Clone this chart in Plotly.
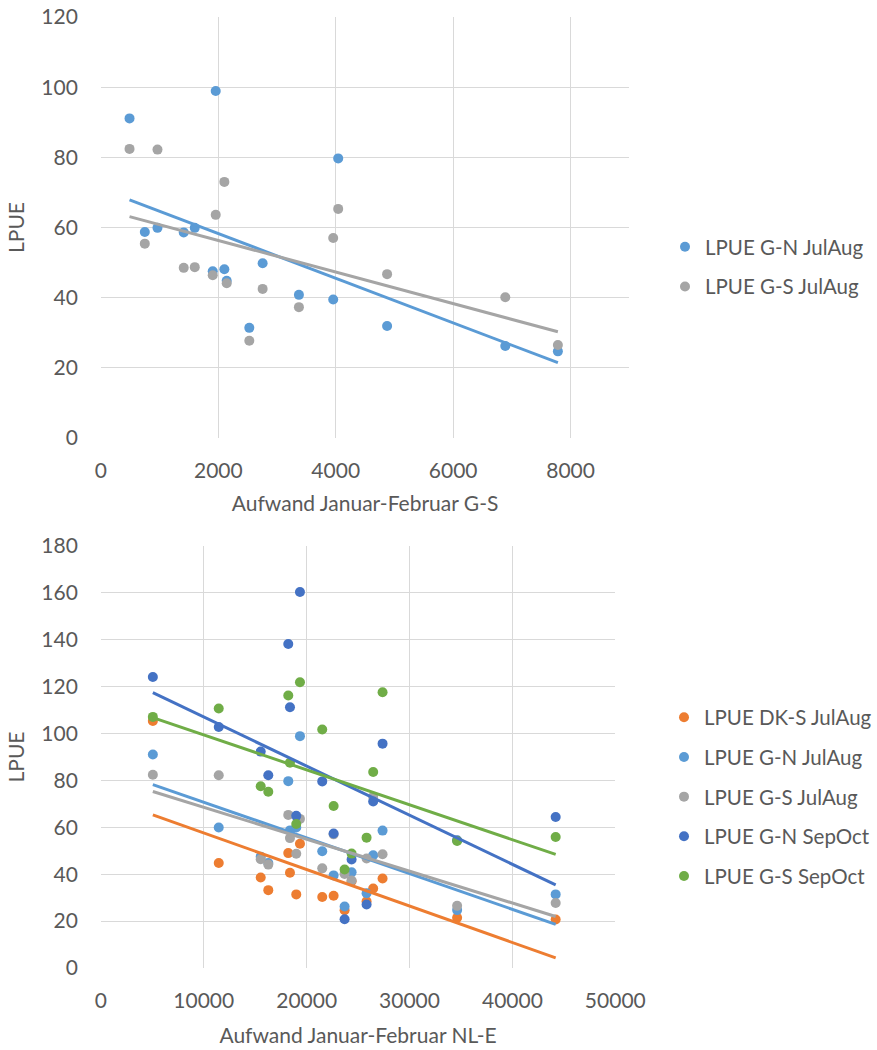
import numpy as np
import plotly.graph_objects as go

# ---- data (17 seasons) ----
aufwand_gs = [488, 748, 964, 1411, 1599, 1905, 1956, 2103, 2143, 2528, 2755, 3373, 3957, 4042, 4875, 6888, 7784]
aufwand_nle = [5050, 18379, 11456, 27379, 18990, 15534, 19350, 26466, 16272, 44204, 21515, 24369, 22621, 18214, 25825, 23689, 34625]

lpue_gn_julaug = [91.1, 58.7, 59.9, 58.6, 59.9, 47.5, 98.9, 48.1, 44.8, 31.4, 49.8, 40.8, 39.5, 79.7, 31.9, 26.2, 24.7]
lpue_gs_julaug = [82.4, 55.4, 82.2, 48.5, 48.7, 46.4, 63.6, 73.0, 44.1, 27.7, 42.5, 37.3, 57.0, 65.3, 46.7, 40.1, 26.5]
lpue_dks_julaug = [105.4, 40.6, 44.8, 38.2, 31.4, 38.6, 53.0, 33.9, 33.2, 20.7, 30.3, 37.0, 30.8, 49.0, 28.5, 24.6, 21.4]
lpue_gn_sepoct = [124.1, 111.2, 102.8, 95.7, 64.9, 92.3, 160.4, 71.0, 82.2, 64.4, 79.6, 46.3, 57.4, 138.2, 27.1, 20.8, 54.5]
lpue_gs_sepoct = [107.1, 87.6, 110.7, 117.6, 61.4, 77.5, 121.9, 83.6, 75.2, 55.9, 101.7, 48.8, 69.1, 116.2, 55.6, 42.0, 54.2]

top_series = [("LPUE G-N JulAug", lpue_gn_julaug, "#5B9BD5"),
              ("LPUE G-S JulAug", lpue_gs_julaug, "#A5A5A5")]
bottom_series = [("LPUE DK-S JulAug", lpue_dks_julaug, "#ED7D31"),
                 ("LPUE G-N JulAug", lpue_gn_julaug, "#5B9BD5"),
                 ("LPUE G-S JulAug", lpue_gs_julaug, "#A5A5A5"),
                 ("LPUE G-N SepOct", lpue_gn_sepoct, "#4472C4"),
                 ("LPUE G-S SepOct", lpue_gs_sepoct, "#70AD47")]

FONT = "Lato"
TXT = "#595959"
GRID = "#D9D9D9"

fig = go.Figure()


def add_panel(xvals, series, xa, ya, legend_name):
    x = np.array(xvals, dtype=float)
    for i, (name, yv, col) in enumerate(series):
        fig.add_trace(go.Scatter(
            x=x, y=yv, mode="markers", name=name,
            marker=dict(color=col, size=10),
            xaxis=xa, yaxis=ya, legend=legend_name,
            legendgroup=legend_name + str(i), showlegend=True,
        ))
    for i, (name, yv, col) in enumerate(series):
        m, b = np.polyfit(x, np.array(yv, dtype=float), 1)
        xs = np.array([x.min(), x.max()])
        fig.add_trace(go.Scatter(
            x=xs, y=m * xs + b, mode="lines",
            line=dict(color=col, width=3),
            xaxis=xa, yaxis=ya, showlegend=False, hoverinfo="skip",
        ))


add_panel(aufwand_gs, top_series, "x", "y", "legend")
add_panel(aufwand_nle, bottom_series, "x2", "y2", "legend2")

W, H = 877, 1050
TICK = dict(family=FONT, size=21, color=TXT)
TITLE = dict(family=FONT, size=21, color=TXT)
LEG = dict(family=FONT, size=20.5, color=TXT)
axis_common = dict(showgrid=True, gridcolor=GRID, gridwidth=1.3, zeroline=False,
                   showline=False, ticks="", automargin=False, tickformat="d",
                   tickfont=TICK)

fig.update_layout(
    width=W, height=H,
    margin=dict(l=0, r=0, t=0, b=0),
    paper_bgcolor="white", plot_bgcolor="white",
    font=dict(family=FONT, color=TXT),
    xaxis=dict(domain=[101 / W, 630 / W], range=[0, 9000], dtick=2000, anchor="y",
               title=dict(text="Aufwand Januar-Februar G-S", standoff=15, font=TITLE),
               ticklabelstandoff=18, **axis_common),
    yaxis=dict(domain=[1 - 438 / H, 1 - 17 / H], range=[0, 120], dtick=20, anchor="x",
               title=dict(text="LPUE", standoff=10, font=TITLE),
               ticklabelstandoff=22, **axis_common),
    xaxis2=dict(domain=[101 / W, 616 / W], range=[0, 50000], dtick=10000, anchor="y2",
                title=dict(text="Aufwand Januar-Februar NL-E", standoff=17, font=TITLE),
                ticklabelstandoff=18, **axis_common),
    yaxis2=dict(domain=[1 - 968 / H, 1 - 546 / H], range=[0, 180], dtick=20, anchor="x2",
                title=dict(text="LPUE", standoff=10, font=TITLE),
                ticklabelstandoff=22, **axis_common),
    legend=dict(x=665 / W, y=1 - 267 / H, xanchor="left", yanchor="middle",
                font=LEG, traceorder="grouped",
                tracegroupgap=10, bgcolor="rgba(0,0,0,0)"),
    legend2=dict(x=665 / W, y=1 - 797 / H, xanchor="left", yanchor="middle",
                 font=LEG, traceorder="grouped",
                 tracegroupgap=10, bgcolor="rgba(0,0,0,0)"),
)

fig.write_html("out.html")
